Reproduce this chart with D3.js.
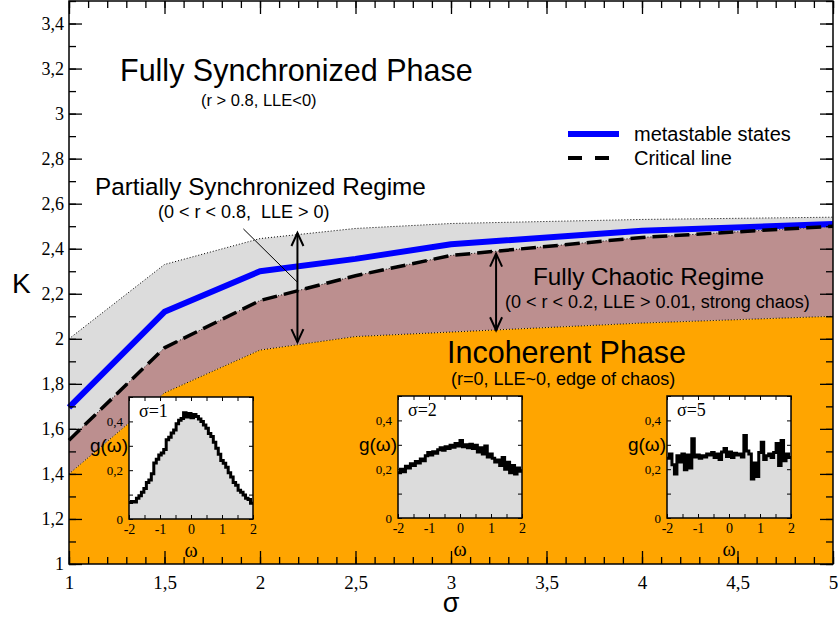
<!DOCTYPE html>
<html>
<head>
<meta charset="utf-8">
<script src="https://cdn.jsdelivr.net/npm/d3@7"></script>
<style>
  body { margin: 0; background: #fff; }
  svg { display: block; }
</style>
</head>
<body>
<div id="chart"></div>
<script>
// phase boundaries, K versus sigma
const sigma = [1, 1.5, 2, 2.5, 3, 4, 5];
const upperK = [2.0, 2.33, 2.445, 2.49, 2.512, 2.53, 2.54];
const metastableK = [1.695, 2.12, 2.30, 2.355, 2.42, 2.48, 2.51];
const criticalK = [1.55, 1.96, 2.17, 2.28, 2.37, 2.45, 2.50];
const incoherentK = [1.40, 1.76, 1.95, 2.01, 2.03, 2.07, 2.10];

const xTicks = [1, 1.5, 2, 2.5, 3, 3.5, 4, 4.5, 5];
const yTicks = [1, 1.2, 1.4, 1.6, 1.8, 2, 2.2, 2.4, 2.6, 2.8, 3, 3.2, 3.4];

// double arrows (sigma, K top, K bottom)
const arrowSigma = [2.196, 3.236];
const arrowTop = [2.47, 2.378];
const arrowBottom = [1.985, 2.038];

// histograms g(omega), 50 bins on [-2, 2]
const histSigma1 = [0.068, 0.072, 0.070, 0.085, 0.095, 0.110, 0.125, 0.150, 0.160, 0.185,
  0.230, 0.245, 0.262, 0.270, 0.285, 0.325, 0.335, 0.352, 0.365, 0.390,
  0.405, 0.412, 0.435, 0.418, 0.432, 0.415, 0.428, 0.420, 0.410, 0.400,
  0.385, 0.372, 0.350, 0.338, 0.315, 0.290, 0.265, 0.240, 0.228, 0.212,
  0.190, 0.172, 0.150, 0.138, 0.118, 0.110, 0.098, 0.085, 0.080, 0.065];
const histSigma2 = [0.185, 0.200, 0.190, 0.212, 0.205, 0.222, 0.215, 0.232, 0.225, 0.242,
  0.235, 0.255, 0.268, 0.258, 0.272, 0.265, 0.280, 0.288, 0.278, 0.292,
  0.285, 0.298, 0.290, 0.305, 0.295, 0.318, 0.292, 0.300, 0.288, 0.302,
  0.285, 0.298, 0.270, 0.288, 0.262, 0.295, 0.250, 0.262, 0.245, 0.230,
  0.238, 0.215, 0.248, 0.200, 0.228, 0.185, 0.215, 0.180, 0.205, 0.192];
const histSigma5 = [0.245, 0.262, 0.218, 0.180, 0.255, 0.230, 0.262, 0.198, 0.258, 0.205,
  0.325, 0.250, 0.258, 0.245, 0.255, 0.250, 0.262, 0.258, 0.268, 0.248,
  0.262, 0.240, 0.270, 0.285, 0.252, 0.270, 0.248, 0.265, 0.258, 0.262,
  0.250, 0.338, 0.275, 0.262, 0.160, 0.225, 0.170, 0.268, 0.310, 0.240,
  0.255, 0.262, 0.248, 0.268, 0.305, 0.215, 0.318, 0.235, 0.262, 0.248];

const width = 838;
const height = 619;
const margin = { top: 1, right: 5, bottom: 55, left: 69 };
const sansFont = "'Liberation Sans', Arial, sans-serif";
const serifFont = "'Liberation Serif', 'Times New Roman', serif";
const comma = d => String(d).replace(".", ",");

const svg = d3.select("#chart").append("svg")
  .attr("width", width)
  .attr("height", height);

const x = d3.scaleLinear().domain([1, 5]).range([margin.left, width - margin.right]);
const y = d3.scaleLinear().domain([1, 3.5]).range([height - margin.bottom, margin.top]);

// regions
const band = (top, bottom) => d3.area()
  .x((d, i) => x(sigma[i]))
  .y0((d, i) => y(bottom[i]))
  .y1((d, i) => y(top[i]));

const floorK = sigma.map(() => 1);
svg.append("path").datum(sigma).attr("fill", "#dcdcdc").attr("d", band(upperK, criticalK));
svg.append("path").datum(sigma).attr("fill", "#bc8f8f").attr("d", band(criticalK, incoherentK));
svg.append("path").datum(sigma).attr("fill", "#ffa500").attr("d", band(incoherentK, floorK));

const lineOf = vals => d3.line().x((d, i) => x(sigma[i])).y((d, i) => y(vals[i]));

// dotted borders
[upperK, criticalK, incoherentK].forEach(vals => {
  svg.append("path").datum(sigma)
    .attr("fill", "none").attr("stroke", "#000").attr("stroke-width", 1)
    .attr("stroke-dasharray", "1,2")
    .attr("d", lineOf(vals));
});

svg.append("path").datum(sigma)
  .attr("fill", "none").attr("stroke", "#0000ff").attr("stroke-width", 6)
  .attr("stroke-linejoin", "round")
  .attr("d", lineOf(metastableK));

svg.append("path").datum(sigma)
  .attr("fill", "none").attr("stroke", "#000").attr("stroke-width", 3.5)
  .attr("stroke-dasharray", "15,7")
  .attr("d", lineOf(criticalK));

// axes
const minorX = d3.range(10, 51).map(d => d / 10);
const minorY = d3.range(10, 36).map(d => d / 10);
const fontAxis = (g, size) => g.call(s => s.select(".domain").remove())
  .selectAll("text").attr("font-family", serifFont).attr("font-size", size).attr("fill", "#000");

svg.append("g").attr("transform", `translate(0,${y(1)})`)
  .call(d3.axisBottom(x).tickValues(minorX).tickSize(-7).tickSizeOuter(0).tickFormat(""))
  .call(g => g.select(".domain").remove());
svg.append("g").attr("transform", `translate(0,${y(1)})`)
  .call(d3.axisBottom(x).tickValues(xTicks).tickSize(-13).tickSizeOuter(0).tickPadding(12).tickFormat(comma))
  .call(g => fontAxis(g, 19));
svg.append("g").attr("transform", `translate(0,${y(3.5)})`)
  .call(d3.axisTop(x).tickValues(minorX).tickSize(-7).tickSizeOuter(0).tickFormat(""))
  .call(g => g.select(".domain").remove());
svg.append("g").attr("transform", `translate(0,${y(3.5)})`)
  .call(d3.axisTop(x).tickValues(xTicks).tickSize(-13).tickSizeOuter(0).tickFormat(""))
  .call(g => g.select(".domain").remove());

svg.append("g").attr("transform", `translate(${x(1)},0)`)
  .call(d3.axisLeft(y).tickValues(minorY).tickSize(-7).tickSizeOuter(0).tickFormat(""))
  .call(g => g.select(".domain").remove());
svg.append("g").attr("transform", `translate(${x(1)},0)`)
  .call(d3.axisLeft(y).tickValues(yTicks).tickSize(-13).tickSizeOuter(0).tickPadding(5).tickFormat(comma))
  .call(g => fontAxis(g, 18));
svg.append("g").attr("transform", `translate(${x(5)},0)`)
  .call(d3.axisRight(y).tickValues(minorY).tickSize(-7).tickSizeOuter(0).tickFormat(""))
  .call(g => g.select(".domain").remove());
svg.append("g").attr("transform", `translate(${x(5)},0)`)
  .call(d3.axisRight(y).tickValues(yTicks).tickSize(-13).tickSizeOuter(0).tickFormat(""))
  .call(g => g.select(".domain").remove());

svg.selectAll(".tick line").attr("stroke", "#000").attr("stroke-width", 1.3);

svg.append("rect")
  .attr("x", x(1)).attr("y", y(3.5))
  .attr("width", x(5) - x(1)).attr("height", y(1) - y(3.5))
  .attr("fill", "none").attr("stroke", "#000").attr("stroke-width", 1.5);

// axis titles
svg.append("text").attr("x", 12).attr("y", 293)
  .attr("font-family", sansFont).attr("font-size", 28).text("K");
svg.append("text").attr("x", x(3)).attr("y", 612).attr("text-anchor", "middle")
  .attr("font-family", sansFont).attr("font-size", 27).text("σ");

// arrows
const arrowHead = (g, ax, ay, dir) => {
  g.append("path")
    .attr("d", `M${ax - 6},${ay + dir * 13}L${ax},${ay}L${ax + 6},${ay + dir * 13}`)
    .attr("fill", "none").attr("stroke", "#000").attr("stroke-width", 2);
};
arrowSigma.forEach((s, i) => {
  const ax = x(s);
  const g = svg.append("g");
  g.append("line")
    .attr("x1", ax).attr("x2", ax)
    .attr("y1", y(arrowTop[i])).attr("y2", y(arrowBottom[i]))
    .attr("stroke", "#000").attr("stroke-width", 2);
  arrowHead(g, ax, y(arrowTop[i]), 1);
  arrowHead(g, ax, y(arrowBottom[i]), -1);
});

// pointer from the partial sync label
svg.append("line")
  .attr("x1", x(1.913)).attr("y1", y(2.488))
  .attr("x2", x(2.195)).attr("y2", y(2.252))
  .attr("stroke", "#000").attr("stroke-width", 1);

// labels
const label = (tx, ty, size, text) => svg.append("text")
  .attr("x", tx).attr("y", ty)
  .attr("font-family", sansFont).attr("font-size", size).attr("fill", "#000")
  .style("white-space", "pre")
  .text(text);

label(120, 81, 30.5, "Fully Synchronized Phase");
label(201, 106, 16.5, "(r > 0.8, LLE<0)");
label(95, 195, 24.3, "Partially Synchronized Regime");
label(158, 218, 18, "(0 < r < 0.8,  LLE > 0)");
label(533, 285, 24.3, "Fully Chaotic Regime");
label(505, 308, 18, "(0 < r < 0.2, LLE > 0.01, strong chaos)");
label(447, 363, 30.5, "Incoherent Phase");
label(451, 385, 18, "(r=0, LLE~0, edge of chaos)");

// legend
const legend = svg.append("g");
legend.append("line").attr("x1", 568).attr("x2", 619).attr("y1", 134).attr("y2", 134)
  .attr("stroke", "#0000ff").attr("stroke-width", 6);
legend.append("line").attr("x1", 568).attr("x2", 619).attr("y1", 158).attr("y2", 158)
  .attr("stroke", "#000").attr("stroke-width", 4).attr("stroke-dasharray", "14,13");
label(634, 141, 20, "metastable states");
label(634, 165, 20, "Critical line");

// insets
const insets = [
  { left: 129, top: 397, name: "σ=1", values: histSigma1 },
  { left: 398, top: 396, name: "σ=2", values: histSigma2 },
  { left: 667, top: 396, name: "σ=5", values: histSigma5 }
];
const insetW = 124;
const insetH = 122;
const binEdges = d3.range(51).map(i => -2 + i * 0.08);

insets.forEach(inset => {
  const g = svg.append("g").attr("transform", `translate(${inset.left},${inset.top})`);
  const ix = d3.scaleLinear().domain([-2, 2]).range([0, insetW]);
  const iy = d3.scaleLinear().domain([0, 0.5]).range([insetH, 0]);

  g.append("rect").attr("width", insetW).attr("height", insetH).attr("fill", "#fff");

  const pts = inset.values.map((v, i) => [binEdges[i], v]);
  pts.push([2, inset.values[inset.values.length - 1]]);

  g.append("path").datum(pts)
    .attr("fill", "#dcdcdc")
    .attr("d", d3.area().curve(d3.curveStepAfter).x(d => ix(d[0])).y0(iy(0)).y1(d => iy(d[1])));
  g.append("path").datum(pts)
    .attr("fill", "none").attr("stroke", "#000").attr("stroke-width", 3)
    .attr("d", d3.line().curve(d3.curveStepAfter).x(d => ix(d[0])).y(d => iy(d[1])));

  const xt = [-2, -1.5, -1, -0.5, 0, 0.5, 1, 1.5, 2];
  const yt = [0, 0.1, 0.2, 0.3, 0.4, 0.5];
  g.append("g").attr("transform", `translate(0,${insetH})`)
    .call(d3.axisBottom(ix).tickValues(xt).tickSize(-4).tickSizeOuter(0)
      .tickPadding(5).tickFormat(d => Number.isInteger(d) ? d : ""))
    .call(s => fontAxis(s, 14));
  g.append("g")
    .call(d3.axisTop(ix).tickValues(xt).tickSize(-4).tickSizeOuter(0).tickFormat(""))
    .call(s => s.select(".domain").remove());
  g.append("g")
    .call(d3.axisLeft(iy).tickValues(yt).tickSize(-4).tickSizeOuter(0).tickPadding(6)
      .tickFormat(d => [0, 0.2, 0.4].includes(d) ? comma(d) : ""))
    .call(s => fontAxis(s, 13));
  g.append("g").attr("transform", `translate(${insetW},0)`)
    .call(d3.axisRight(iy).tickValues(yt).tickSize(-4).tickSizeOuter(0).tickFormat(""))
    .call(s => s.select(".domain").remove());
  g.selectAll(".tick line").attr("stroke", "#000").attr("stroke-width", 1);

  g.append("rect").attr("width", insetW).attr("height", insetH)
    .attr("fill", "none").attr("stroke", "#000").attr("stroke-width", 1.5);

  g.append("text").attr("x", 10).attr("y", 20)
    .attr("font-family", serifFont).attr("font-size", 18).text(inset.name);
  g.append("text").attr("x", -1).attr("y", 55).attr("text-anchor", "end")
    .attr("font-family", sansFont).attr("font-size", 19).text("g(ω)");
  g.append("text").attr("x", insetW / 2).attr("y", 160).attr("text-anchor", "middle")
    .attr("font-family", serifFont).attr("font-size", 20).text("ω");
});
</script>
</body>
</html>
